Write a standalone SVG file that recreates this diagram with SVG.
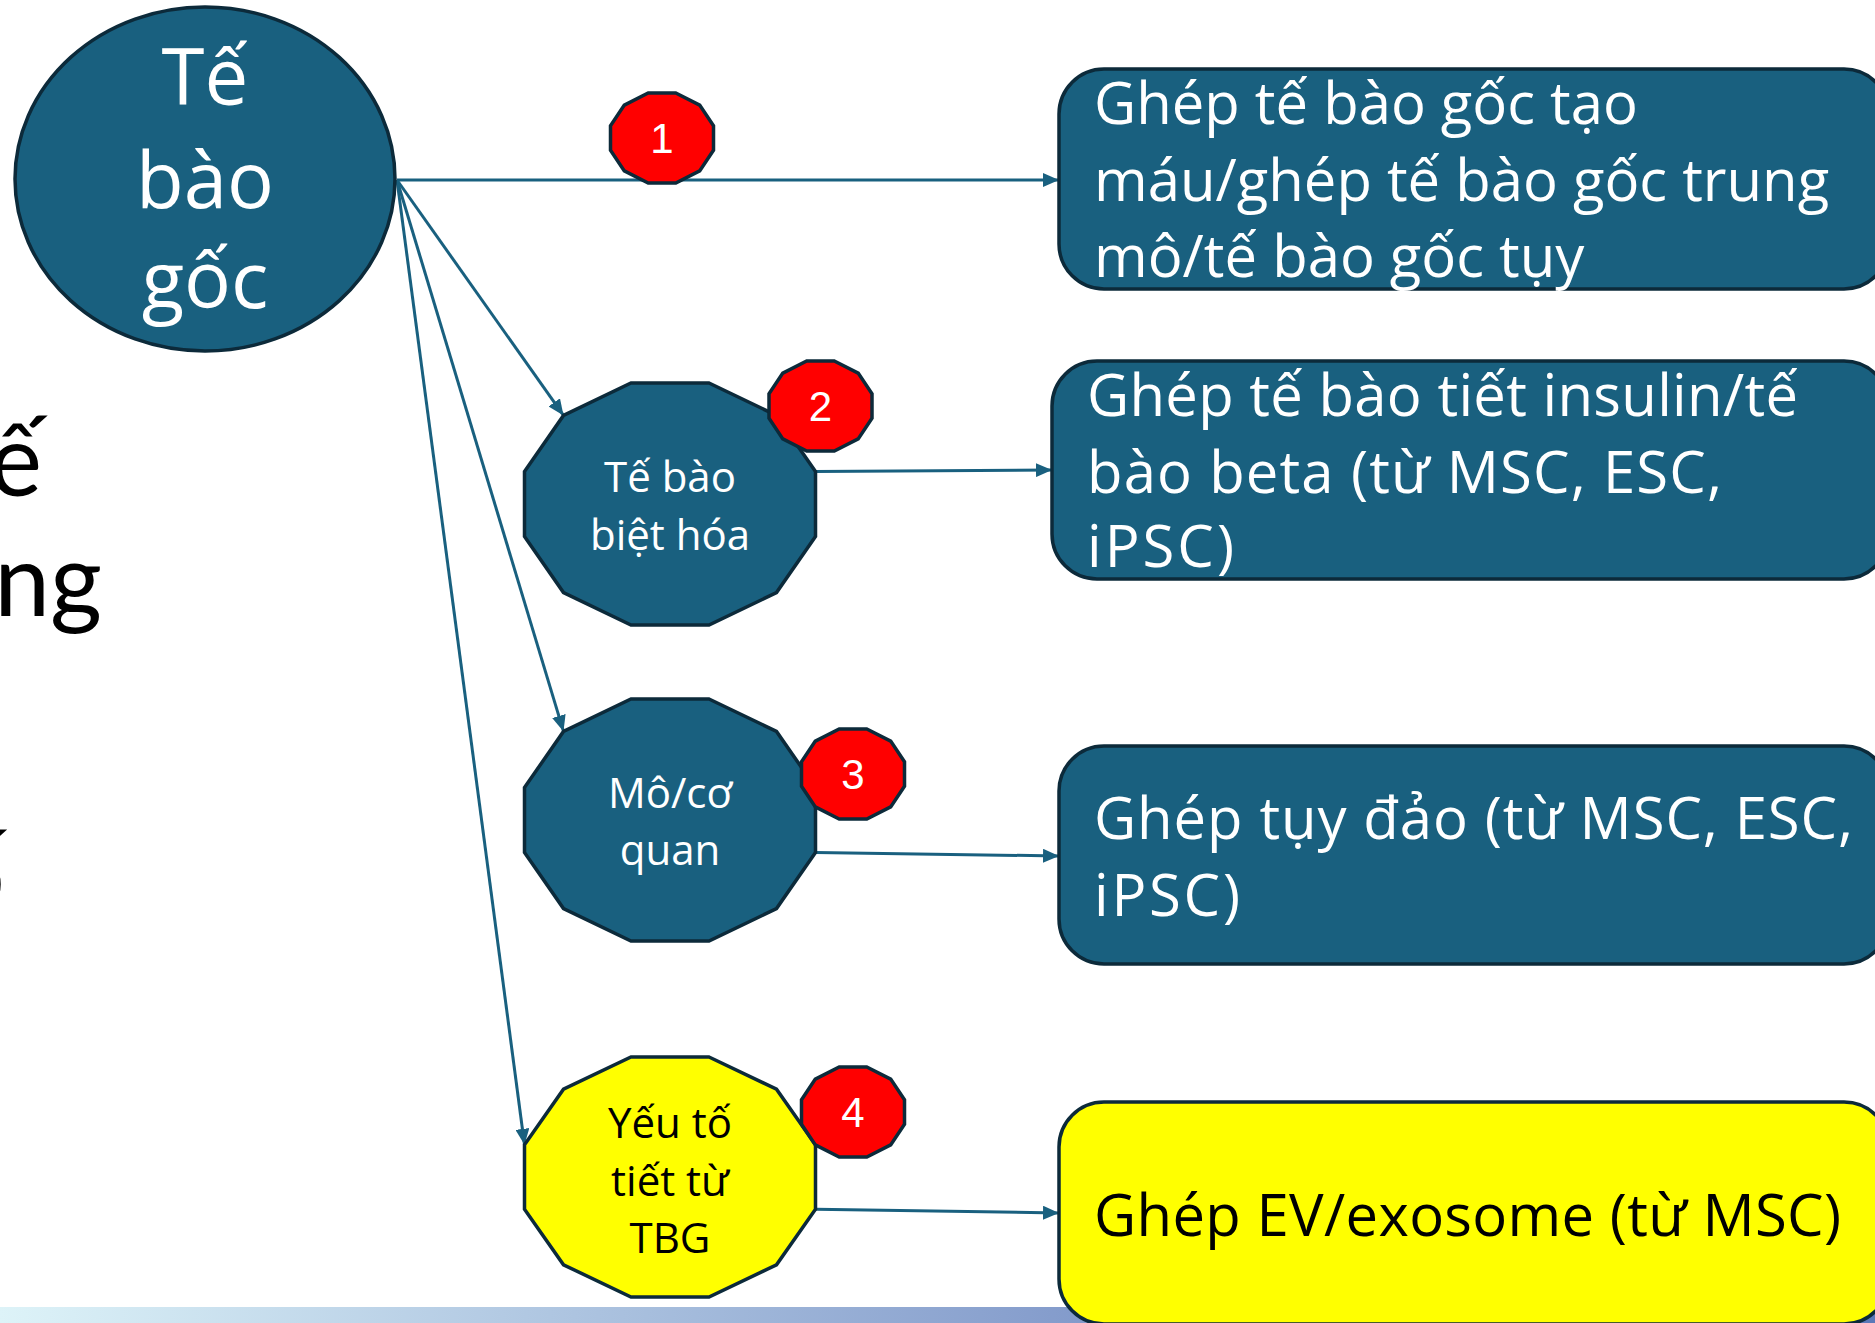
<svg xmlns="http://www.w3.org/2000/svg" width="1875" height="1323" viewBox="0 0 1875 1323">
<style>
.blue{fill:#19607F;stroke:#0C2A3A;stroke-width:3.5}
.yel{fill:#FFFF00;stroke:#0C2A3A;stroke-width:3.5}
.badge{fill:#FF0000;stroke:#0C2A3A;stroke-width:3.5}
.conn{stroke:#19607F;stroke-width:3;fill:none;marker-end:url(#arr)}
.t{font-family:"Open Sans","Noto Sans",sans-serif}
.w{fill:#FFFFFF}
.k{fill:#000000}
.mid{text-anchor:middle}
.big{font-size:78px}
.oct{font-size:42px}
.num{font-size:42px;font-family:"Liberation Sans",Arial,sans-serif;fill:#FFFFFF;text-anchor:middle}
.box{font-size:58px}
.bg{font-family:Lato,"Open Sans",sans-serif;font-size:100px;fill:#000000;text-anchor:end}
</style>
<defs>
<marker id="arr" markerUnits="userSpaceOnUse" markerWidth="16" markerHeight="14" viewBox="0 0 16 14" refX="16" refY="7" orient="auto">
<path d="M0,0 L16,7 L0,14 z" fill="#19607F"/>
</marker>
<linearGradient id="strip" x1="0" y1="0" x2="1875" y2="0" gradientUnits="userSpaceOnUse">
<stop offset="0" stop-color="#DDF3F8"/>
<stop offset="0.6" stop-color="#7F97C9"/>
<stop offset="1" stop-color="#5A78B8"/>
</linearGradient>
</defs>
<rect x="0" y="0" width="1875" height="1323" fill="#FFFFFF"/>
<rect x="0" y="1307" width="1875" height="16" fill="url(#strip)"/>
<g id="background-text">
<text class="bg" x="42" y="496">tế</text>
<text class="bg" x="102" y="616">trong</text>
<text class="bg" x="5" y="910">tố</text>
</g>
<g id="connectors">
<line class="conn" x1="397" y1="180" x2="1059" y2="180"/>
<line class="conn" x1="397" y1="180" x2="563.5" y2="415.4"/>
<line class="conn" x1="397" y1="180" x2="563.5" y2="731.4"/>
<line class="conn" x1="397" y1="180" x2="524.5" y2="1144.8"/>
<line class="conn" x1="815.5" y1="471.6" x2="1052" y2="470"/>
<line class="conn" x1="815.5" y1="852.4" x2="1059" y2="856"/>
<line class="conn" x1="815.5" y1="1209.2" x2="1059" y2="1213"/>
</g>
<g id="stem-cell">
<ellipse class="blue" cx="205" cy="179" rx="190" ry="172"/>
<text class="t w mid big" x="205" y="105">Tế</text>
<text class="t w mid big" x="205" y="208">bào</text>
<text class="t w mid big" x="205" y="308">gốc</text>
</g>
<g id="differentiated-cells">
<polygon class="blue" points="709,383 776.5,415.4 815.5,471.6 815.5,536.4 776.5,592.6 709,625 631,625 563.5,592.6 524.5,536.4 524.5,471.6 563.5,415.4 631,383"/>
<text class="t w mid oct" x="670" y="492">Tế bào</text>
<text class="t w mid oct" x="670" y="550">biệt hóa</text>
</g>
<g id="tissue-organ">
<polygon class="blue" points="709,699 776.5,731.4 815.5,787.6 815.5,852.4 776.5,908.6 709,941 631,941 563.5,908.6 524.5,852.4 524.5,787.6 563.5,731.4 631,699"/>
<text class="t w mid oct" x="670" y="808">Mô/cơ</text>
<text class="t w mid oct" x="670" y="865">quan</text>
</g>
<g id="secreted-factors">
<polygon class="yel" points="709,1057 776.5,1089.2 815.5,1144.8 815.5,1209.2 776.5,1264.8 709,1297 631,1297 563.5,1264.8 524.5,1209.2 524.5,1144.8 563.5,1089.2 631,1057"/>
<text class="t k mid oct" x="670" y="1138">Yếu tố</text>
<text class="t k mid oct" x="670" y="1196">tiết từ</text>
<text class="t k mid oct" x="670" y="1253">TBG</text>
</g>
<g id="box-1">
<rect class="blue" x="1059" y="69" width="830" height="220" rx="45" ry="45"/>
<text class="t w box" x="1094" y="124">Ghép tế bào gốc tạo</text>
<text class="t w box" x="1094" y="201">máu/ghép tế bào gốc trung</text>
<text class="t w box" x="1094" y="277">mô/tế bào gốc tụy</text>
</g>
<g id="box-2">
<rect class="blue" x="1052" y="361" width="837" height="218" rx="45" ry="45"/>
<text class="t w box" x="1087" y="416" textLength="711" lengthAdjust="spacing">Ghép tế bào tiết insulin/tế</text>
<text class="t w box" x="1087" y="493" textLength="635" lengthAdjust="spacing">bào beta (từ MSC, ESC,</text>
<text class="t w box" x="1087" y="567" textLength="147" lengthAdjust="spacing">iPSC)</text>
</g>
<g id="box-3">
<rect class="blue" x="1059" y="746" width="830" height="218" rx="45" ry="45"/>
<text class="t w box" x="1094" y="839" textLength="759" lengthAdjust="spacing">Ghép tụy đảo (từ MSC, ESC,</text>
<text class="t w box" x="1094" y="916" textLength="146" lengthAdjust="spacing">iPSC)</text>
</g>
<g id="box-4">
<rect class="yel" x="1059" y="1102" width="830" height="222" rx="45" ry="45"/>
<text class="t k box" x="1094" y="1236" textLength="747" lengthAdjust="spacing">Ghép EV/exosome (từ MSC)</text>
</g>
<g id="badge-1">
<polygon class="badge" points="675.8,93 699.7,105.1 713.5,125.9 713.5,150.1 699.7,170.9 675.8,183 648.2,183 624.3,170.9 610.5,150.1 610.5,125.9 624.3,105.1 648.2,93"/>
<text class="num" x="662" y="153">1</text>
</g>
<g id="badge-2">
<polygon class="badge" points="834.3,361 858.2,373.1 872,393.9 872,418.1 858.2,438.9 834.3,451 806.7,451 782.8,438.9 769,418.1 769,393.9 782.8,373.1 806.7,361"/>
<text class="num" x="820.5" y="421">2</text>
</g>
<g id="badge-3">
<polygon class="badge" points="866.8,729 890.7,741.1 904.5,761.9 904.5,786.1 890.7,806.9 866.8,819 839.2,819 815.3,806.9 801.5,786.1 801.5,761.9 815.3,741.1 839.2,729"/>
<text class="num" x="853" y="789">3</text>
</g>
<g id="badge-4">
<polygon class="badge" points="866.8,1067 890.7,1079.1 904.5,1099.9 904.5,1124.1 890.7,1144.9 866.8,1157 839.2,1157 815.3,1144.9 801.5,1124.1 801.5,1099.9 815.3,1079.1 839.2,1067"/>
<text class="num" x="853" y="1127">4</text>
</g>
</svg>
